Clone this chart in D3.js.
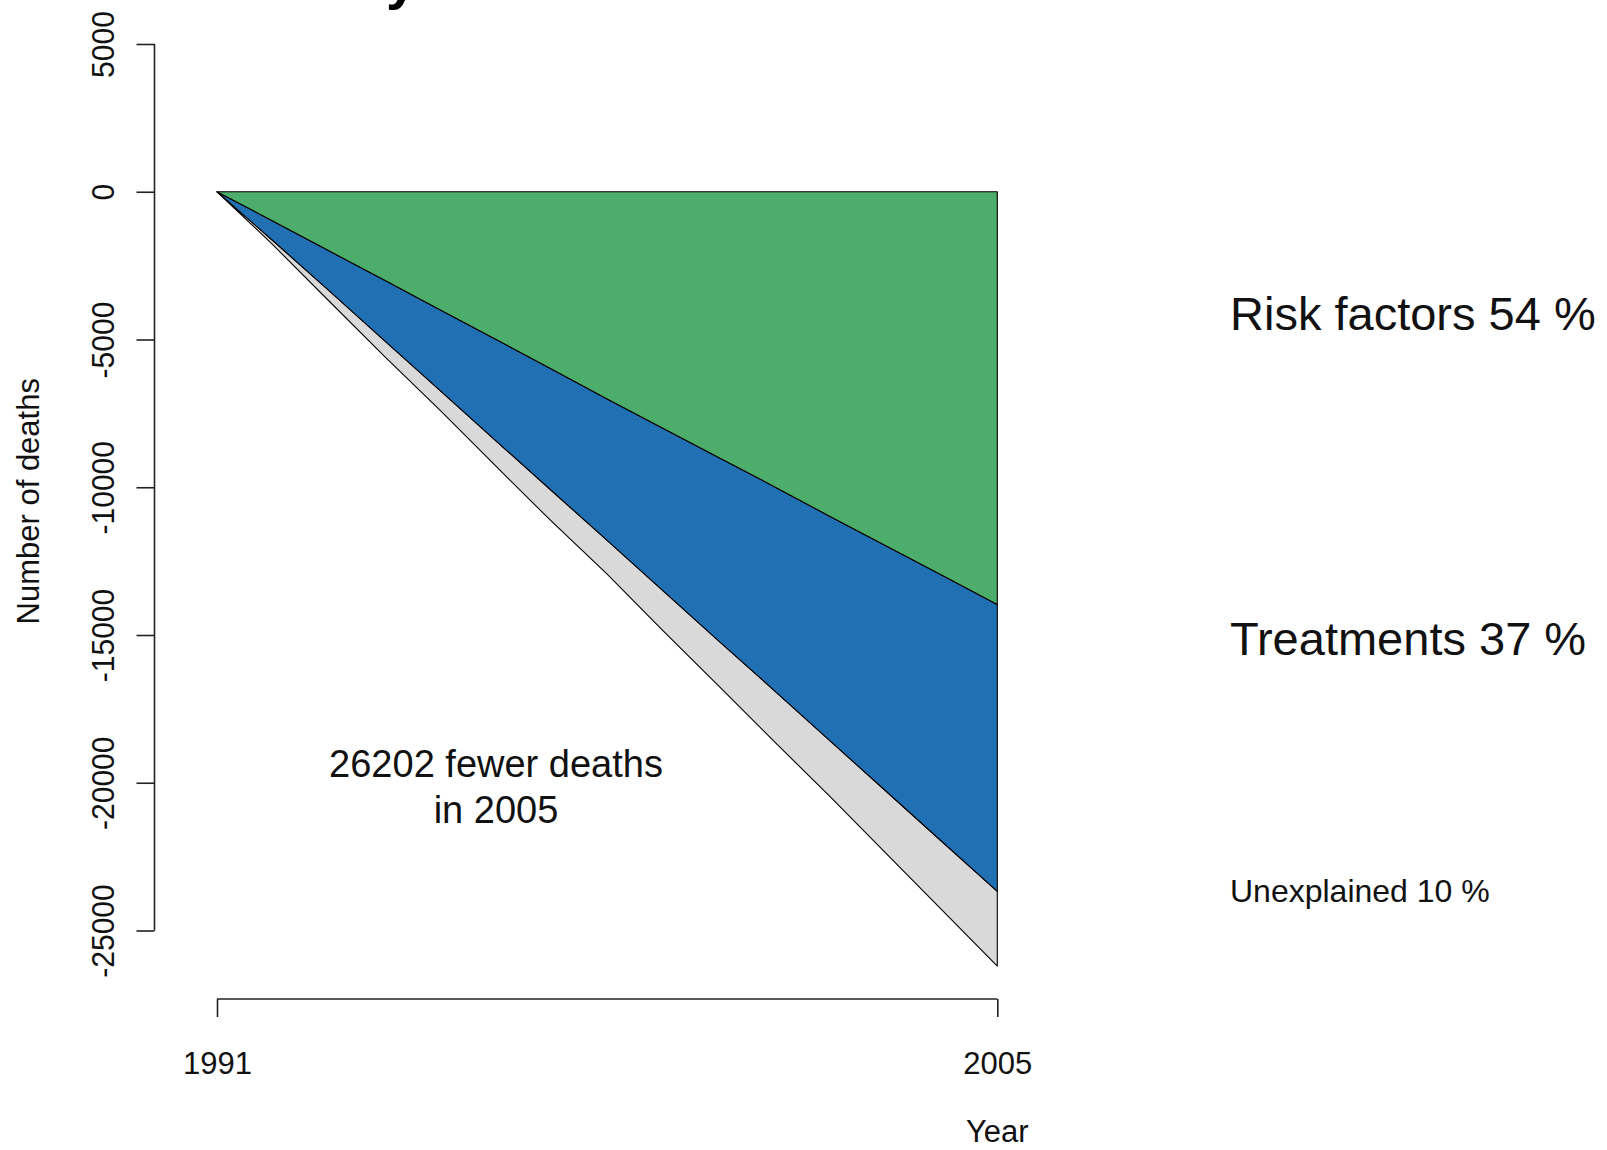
<!DOCTYPE html>
<html>
<head>
<meta charset="utf-8">
<script src="https://cdn.jsdelivr.net/npm/d3@7"></script>
<style>
  html, body { margin: 0; padding: 0; background: #fff; }
  svg { display: block; font-family: "Liberation Sans", Arial, sans-serif; }
</style>
</head>
<body>
<svg id="chart" width="1607" height="1150"></svg>
<script>
// ---- data ----
const years = [1991, 1992, 1993, 1994, 1995, 1996, 1997, 1998, 1999, 2000, 2001, 2002, 2003, 2004, 2005];
const riskFactors = [0, 990, 1990, 2990, 3990, 4990, 6000, 7010, 8000, 8990, 9980, 10990, 11980, 12970, 13966];
const treatments  = [0, 660, 1340, 2040, 2730, 3430, 4110, 4790, 5500, 6210, 6900, 7590, 8300, 9010, 9709];
const unexplained = [0, 140, 350, 530, 670, 860, 1040, 1140, 1350, 1520, 1730, 1890, 2100, 2310, 2527];
const seriesNames = ["Risk factors", "Treatments", "Unexplained"];
const seriesPct = [54, 37, 10];
const seriesColors = ["#4DAE6B", "#2170B3", "#D9D9D9"];
const yTicks = [5000, 0, -5000, -10000, -15000, -20000, -25000];
const xTicks = [1991, 2005];
const totalText = ["26202 fewer deaths", "in 2005"];

const svg = d3.select("#chart");

const x = d3.scaleLinear().domain([1991, 2005]).range([217, 997.3]);
const y = d3.scaleLinear().domain([5000, -25000]).range([44, 930.5]);

// cumulative boundaries
const rows = years.map((yr, i) => {
  const b1 = -riskFactors[i];
  const b2 = b1 - treatments[i];
  const b3 = b2 - unexplained[i];
  return { yr, b0: 0, b1, b2, b3 };
});
const bounds = [["b0", "b1"], ["b1", "b2"], ["b2", "b3"]];

[2, 1, 0].forEach(k => {
  const [top, bot] = bounds[k];
  const area = d3.area()
    .x(d => x(d.yr))
    .y0(d => y(d[top]))
    .y1(d => y(d[bot]));
  svg.append("path")
    .datum(rows)
    .attr("d", area)
    .attr("fill", seriesColors[k])
    .attr("stroke", "#000")
    .attr("stroke-width", 1.1)
    .attr("stroke-linejoin", "round");
});

// y axis
const yAxis = d3.axisLeft(y).tickValues(yTicks).tickSize(18).tickPadding(0).tickFormat(d => String(d));
const gy = svg.append("g").attr("transform", "translate(154.5,0)").call(yAxis);
gy.select(".domain").attr("d", `M-0,${y(5000)}V${y(-25000)}`).attr("stroke", "#222").attr("stroke-width", 1.6);
gy.selectAll(".tick line").attr("stroke", "#222").attr("stroke-width", 1.6);
gy.selectAll(".tick text")
  .attr("x", null).attr("dy", null)
  .attr("text-anchor", "middle")
  .attr("font-size", 32)
  .attr("fill", "#111")
  .attr("transform", "translate(-41,0) rotate(-90) scale(0.94,1)")
  .attr("y", 0);

// x axis
const xAxis = d3.axisBottom(x).tickValues(xTicks).tickSize(18).tickPadding(0).tickFormat(d => String(d));
const gx = svg.append("g").attr("transform", "translate(0,999)").call(xAxis);
gx.select(".domain").attr("d", `M${x(1991)},0H${x(2005)}`).attr("stroke", "#222").attr("stroke-width", 1.6);
gx.selectAll(".tick line").attr("stroke", "#222").attr("stroke-width", 1.6);
gx.selectAll(".tick text")
  .attr("dy", null)
  .attr("y", 75)
  .attr("font-size", 31)
  .attr("fill", "#111");

// axis titles
svg.append("text")
  .attr("transform", `translate(39,${(y(5000) + y(-25000)) / 2 + 14}) rotate(-90)`)
  .attr("text-anchor", "middle")
  .attr("font-size", 31)
  .attr("fill", "#111")
  .text("Number of deaths");

svg.append("text")
  .attr("x", x(2005))
  .attr("y", 1142)
  .attr("text-anchor", "middle")
  .attr("font-size", 31)
  .attr("fill", "#111")
  .text("Year");

// central annotation
svg.append("text")
  .attr("x", 496).attr("y", 777)
  .attr("text-anchor", "middle").attr("font-size", 38).attr("fill", "#111")
  .text(totalText[0]);
svg.append("text")
  .attr("x", 496).attr("y", 823)
  .attr("text-anchor", "middle").attr("font-size", 38).attr("fill", "#111")
  .text(totalText[1]);

// right-side labels
const labelBase = [330, 655, 902];
const labelSize = [47, 47, 32];
seriesNames.forEach((n, i) => {
  svg.append("text")
    .attr("x", 1230).attr("y", labelBase[i])
    .attr("font-size", labelSize[i]).attr("fill", "#111")
    .text(`${n} ${seriesPct[i]} %`);
});

// partially visible title fragment at the very top (cut off as in the reference)
svg.append("text")
  .attr("x", 386).attr("y", -2)
  .attr("font-size", 56).attr("font-weight", "bold").attr("fill", "#000")
  .text("y");
</script>
</body>
</html>
